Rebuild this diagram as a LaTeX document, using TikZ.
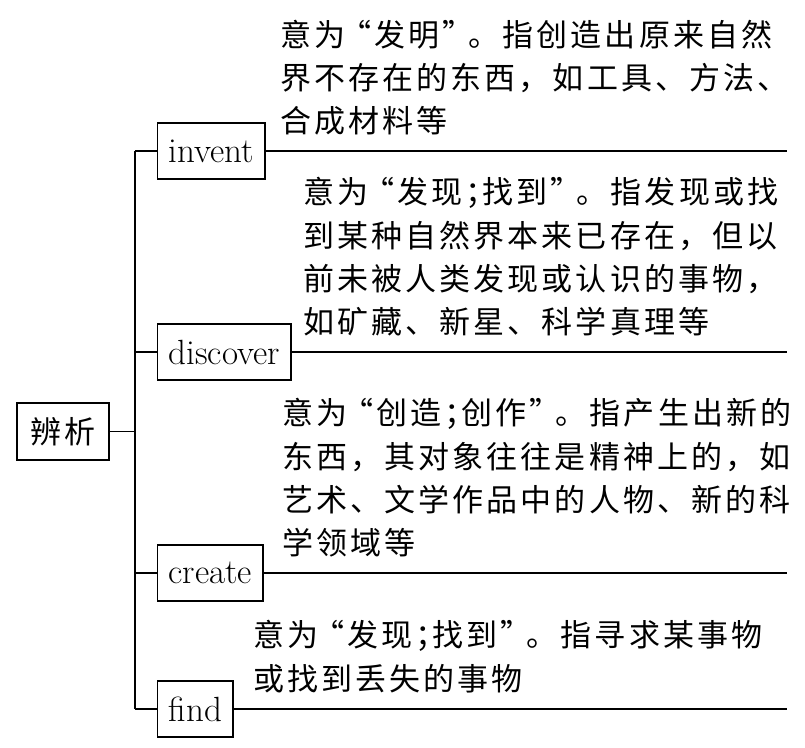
\documentclass[tikz,border=0pt]{standalone}
\usepackage{fontspec}
\newfontfamily\cjkfont[LetterSpace=10]{Noto Sans CJK SC}
\usetikzlibrary{positioning}
% narrow quotes and semicolon, as printed
\newcommand{\oq}{\hspace{-5pt}“}
\newcommand{\cq}{”\hspace{-5pt}}
\newcommand{\sm}{；\hspace{-14pt}}

\begin{document}
\begin{tikzpicture}[x=1pt, y=-1pt,
    word/.style={
        rectangle,
        draw=black,
        line width=1.3pt,
        inner xsep=11pt,
        inner ysep=0pt,
        minimum height=56pt,
        font=\fontsize{35}{40}\selectfont
    },
    rootbox/.style={
        rectangle,
        draw=black,
        line width=1.3pt,
        minimum width=92pt,
        minimum height=57pt,
        font=\cjkfont\fontsize{31}{36}\selectfont
    },
    desc/.style={
        anchor=west,
        inner sep=0pt,
        align=left,
        font=\cjkfont\fontsize{31}{43.3}\selectfont
    },
    link/.style={line width=1.3pt, black}
]
\useasboundingbox (0,0) rectangle (805,747);

% ===== root and branch points =====
\node[rootbox] (root) at (63,431.5) {辨析};
\coordinate (trunk) at (135,0);
\coordinate (rim) at (787,0);

% ===== word boxes =====
\node[word, anchor=west] (invent) at (157,151) {invent};
\node[word, anchor=west] (discover) at (157,352) {discover};
\node[word, anchor=west] (create) at (157,573) {create};
\node[word, anchor=west] (find) at (157,709) {find};

% ===== explanations =====
\node[desc] (inventtxt) at (280,77.5) {意为\oq 发明\cq 。指创造出原来自然\\界不存在的东西，如工具、方法、\\合成材料等};
\node[desc] (discovertxt) at (303,257) {意为\oq 发现\sm 找到\cq 。指发现或找\\到某种自然界本来已存在，但以\\前未被人类发现或认识的事物，\\如矿藏、新星、科学真理等};
\node[desc] (createtxt) at (282,478) {意为\oq 创造\sm 创作\cq 。指产生出新的\\东西，其对象往往是精神上的，如\\艺术、文学作品中的人物、新的科\\学领域等};
\node[desc] (findtxt) at (253,656.5) {意为\oq 发现\sm 找到\cq 。指寻求某事物\\或找到丢失的事物};

% ===== tree lines =====
\draw[link] (root.east) -- (root.east -| trunk);
\draw[link] (invent.west -| trunk) -- (find.west -| trunk);
\draw[link] (invent.west -| trunk) -- (invent.west);
\draw[link] (discover.west -| trunk) -- (discover.west);
\draw[link] (create.west -| trunk) -- (create.west);
\draw[link] (find.west -| trunk) -- (find.west);

% rules under the texts
\draw[link] (invent.east) -- (invent.east -| rim);
\draw[link] (discover.east) -- (discover.east -| rim);
\draw[link] (create.east) -- (create.east -| rim);
\draw[link] (find.east) -- (find.east -| rim);

\end{tikzpicture}
\end{document}
